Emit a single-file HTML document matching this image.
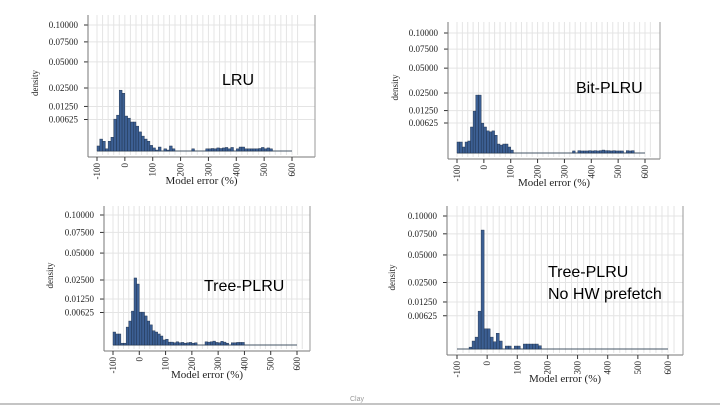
<!DOCTYPE html>
<html><head><meta charset="utf-8">
<style>
html,body{margin:0;padding:0;background:#fff;}
svg{display:block;font-family:"Liberation Serif",serif;}
.lab{font-family:"Liberation Sans",sans-serif;font-size:16px;fill:#000;}
</style></head>
<body>
<svg id="slide" width="720" height="405" viewBox="0 0 720 405" xmlns="http://www.w3.org/2000/svg">
<rect width="720" height="405" fill="#fff"/>
<text x="350" y="401" font-size="7" fill="#999" font-family="Liberation Sans, sans-serif">Clay</text>
<line x1="0" y1="404" x2="720" y2="404" stroke="#888" stroke-width="1"/>
</svg>
<script>
const binStarts = [];
for (let b = -100; b < 600; b += 10) binStarts.push(b);
const yTickValues = [0.1, 0.075, 0.05, 0.025, 0.0125, 0.00625];
const yTickLabels = ["0.10000","0.07500","0.05000","0.02500","0.01250","0.00625"];
const xTickValues = [-100, 0, 100, 200, 300, 400, 500, 600];
const xTickLabels = ["-100","0","100","200","300","400","500","600"];
const lruDensity = [0.00016,0.0009,0.0006,0.00003,0.0006,0.0012,0.0064,0.0081,0.0233,0.021,
0.0077,0.0068,0.0053,0.0053,0.0039,0.0023,0.0014,0.0009,0.0006,0.0002,
0.00006,0.000006,0.0001,0,0.00003,0.000006,0.00016,0.00003,0,0,
0,0,0,0,0.00003,0,0,0,0,0.00003,
0.00003,0.00004,0.00003,0.00006,0.00004,0.00006,0.00008,0.00003,0.00008,0,
0.00003,0.0001,0.0001,0.00003,0.00003,0.00003,0.00003,0.00003,0.00004,0.00008,
0.00003,0.00006,0.00003,0,0,0,0,0,0,0];
const bitDensity = [0.00084,0.00084,0.00025,0.00084,0.001,0.0047,0.0122,0.0233,0.0233,0.0062,
0.0047,0.0034,0.0031,0.0034,0.0022,0.00056,0.00044,0.00056,0.00056,0.00025,
0.00006,0,0,0,0,0,0,0,0,0,
0,0,0,0,0,0,0,0,0,0,
0,0,0,0.00003,0,0.00004,0.00003,0.00003,0.00003,0.00004,
0.00003,0.00004,0.00003,0.00004,0.00006,0.00004,0.00004,0.00003,0.00004,0.00003,
0.00003,0.00003,0,0.00004,0.00003,0.00004,0,0,0,0];
const treeDensity = [0.001,0.00072,0.00072,0.00002,0.00002,0.0019,0.0034,0.0068,0.0266,0.022,
0.0064,0.0064,0.005,0.0034,0.0024,0.0012,0.001,0.00072,0.00048,0.00015,
0.0002,0.00005,0.00005,0.00003,0.00006,0.00003,0.00004,0.00002,0.00003,0.00004,
0.00002,0.00003,0,0,0,0.00006,0.00005,0.00006,0.00009,0.00004,
0.00003,0.00008,0.00005,0.00002,0,0.00003,0.00003,0.00004,0.00004,0.00004,
0,0,0,0,0,0,0,0,0,0,0,0,0,0,0,0,0,0,0,0];
const treeNoPfDensity = [0,0,0,0,0.00002,0.00036,0.0008,0.0081,0.08,0.0023,
0.0023,0.0008,0.0003,0.0014,0.00036,0,0.00005,0.00005,0,0.00005,
0.00005,0,0.00014,0.00014,0.00014,0.00014,0.00014,0.00006,0,0,
0,0,0,0,0,0,0,0,0,0,0,0,0,0,0,0,0,0,0,0,0,0,0,0,0,0,0,0,0,0,0,0,0,0,0,0,0,0,0,0];

const NS = "http://www.w3.org/2000/svg";
const svg = document.getElementById("slide");
function mk(tag, attrs, parent) {
  const e = document.createElementNS(NS, tag);
  for (const k in attrs) e.setAttribute(k, attrs[k]);
  (parent || svg).appendChild(e);
  return e;
}
const panels = [
  {key:"lru", data:lruDensity, left:88, right:315, top:15, y01:25, base:151, x0:97, x1:292, yLabX:80, densX:38, title:["LRU"], tx:222, ty:85},
  {key:"bit-plru", data:bitDensity, left:448, right:660, top:22, y01:33, base:153, x0:457, x1:645, yLabX:440, densX:398, title:["Bit-PLRU"], tx:576, ty:93},
  {key:"tree-plru", data:treeDensity, left:104, right:310, top:206, y01:215, base:345, x0:113, x1:297, yLabX:96, densX:53, title:["Tree-PLRU"], tx:204, ty:291},
  {key:"tree-plru-no-prefetch", data:treeNoPfDensity, left:447, right:683, top:206, y01:216, base:349, x0:457, x1:668, yLabX:439, densX:395, title:["Tree-PLRU","No HW prefetch"], tx:548, ty:277}
];
panels.forEach(p => {
  const g = mk("g", {});
  
  
  const k = (p.base - p.y01) / Math.sqrt(0.1);
  const yS = v => p.base - Math.sqrt(v) * k;
  const xS = v => p.x0 + (v + 100) / 700 * (p.x1 - p.x0);
  for (let v = -100; v <= 620; v += 20) {
    const l = mk("line", {x1:xS(v), x2:xS(v), y1:p.top, y2:p.base + 4, stroke:"#e4e4e4", "stroke-width":1}, g);
    
    
  }
  yTickValues.forEach((v, i) => {
    const y = yS(v);
    const gl = mk("line", {x1:p.left, x2:p.right, y1:y, y2:y, stroke:"#e4e4e4"}, g);
    
    
    mk("line", {x1:p.left - 4, x2:p.left, y1:y, y2:y, stroke:"#333"}, g);
    const t = mk("text", {x:p.yLabX - 2, y:y + 3, "font-size":9, "text-anchor":"end", fill:"#222"}, g);
    t.textContent = yTickLabels[i];
    
    
  });
  mk("line", {x1:p.left, x2:p.left, y1:p.top, y2:p.base + 6, stroke:"#777"}, g);
  mk("line", {x1:p.left, x2:p.right, y1:p.base + 6, y2:p.base + 6, stroke:"#777"}, g);
  mk("line", {x1:p.right, x2:p.right, y1:p.top, y2:p.base + 6, stroke:"#999"}, g);
  mk("line", {x1:xS(-100), x2:xS(600), y1:p.base, y2:p.base, stroke:"#456"}, g);
  const bw = xS(10) - xS(0);
  p.data.forEach((v, i) => {
    if (v <= 0) return;
    const y = yS(v);
    const r = mk("rect", {x:xS(binStarts[i]), y:y, width:bw, height:p.base - y, fill:"#3c5f93", stroke:"#1a2b44", "stroke-width":0.4}, g);
    
    
  });
  xTickValues.forEach((v, i) => {
    const x = xS(v);
    mk("line", {x1:x, x2:x, y1:p.base + 6, y2:p.base + 10, stroke:"#333"}, g);
    const t = mk("text", {x:0, y:0, "font-size":9, "text-anchor":"end", fill:"#222", transform:`translate(${x + 3},${p.base + 12}) rotate(-90)`}, g);
    t.textContent = xTickLabels[i];
    
    
  });
  const xt = mk("text", {x:(p.left + p.right) / 2, y:p.base + 33, "font-size":11, "text-anchor":"middle", fill:"#222"}, g);
  xt.textContent = "Model error (%)";
  
  
  const dy = (p.top + p.base) / 2;
  const yt = mk("text", {x:0, y:0, "font-size":9, "text-anchor":"middle", fill:"#222", transform:`translate(${p.densX},${dy}) rotate(-90)`}, g);
  yt.textContent = "density";
  
  
  p.title.forEach((s, i) => {
    const t = mk("text", {x:p.tx, y:p.ty + i * 22, class:"lab"}, g);
    t.textContent = s;
    
    
  });
});
</script>
</body></html>
